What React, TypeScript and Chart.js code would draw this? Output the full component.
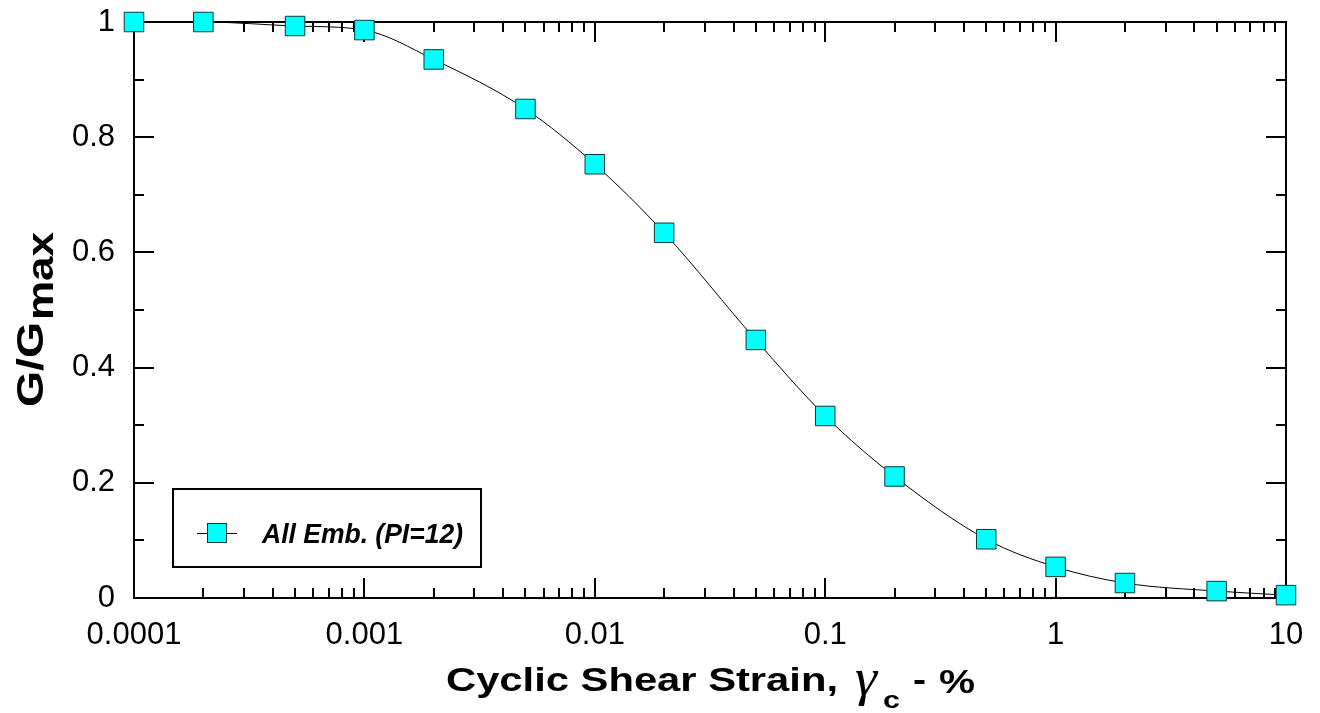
import React, { useEffect, useRef } from 'react';
import { Chart, registerables } from 'chart.js';

Chart.register(...registerables);

// ---- data ----
const strainPct = [0.0001, 0.0002, 0.0005, 0.001, 0.002, 0.005, 0.01, 0.02, 0.05, 0.1, 0.2, 0.5, 1, 2, 5, 10];
const modulusRatio = [1.0, 1.0, 0.993, 0.986, 0.935, 0.849, 0.753, 0.634, 0.448, 0.316, 0.211, 0.102, 0.054, 0.026, 0.012, 0.005];
const xTickValues = [0.0001, 0.001, 0.01, 0.1, 1, 10];
const yTickStep = 0.2;
const seriesLabel = 'All Emb. (PI=12)';
const xTitleMain = 'Cyclic Shear Strain,';
const xTitleSymbol = 'γ';
const xTitleSub = 'c';
const xTitleTail = ['-', '%'];
const yTitleMain = 'G/G';
const yTitleSub = 'max';

const SANS = '"Liberation Sans", Arial, Helvetica, sans-serif';
const SERIF = '"Liberation Serif", "Times New Roman", serif';
const CYAN = '#00ffff';
const MARKER_EDGE = '#0b3a3a';

function fitText(ctx: CanvasRenderingContext2D, text: string, x: number, y: number, targetW: number) {
  const w = ctx.measureText(text).width;
  ctx.save();
  ctx.translate(x, y);
  ctx.scale(targetW / w, 1);
  ctx.fillText(text, 0, 0);
  ctx.restore();
}

const framePlugin = {
  id: 'frameTicks',
  beforeDatasetsDraw(chart: any) {
    const { ctx, chartArea, scales } = chart;
    const { left, right, top, bottom } = chartArea;
    const x = scales.x;
    const y = scales.y;
    ctx.save();
    ctx.strokeStyle = '#000';
    ctx.lineWidth = 2;
    ctx.beginPath();
    ctx.rect(left, top, right - left, bottom - top);
    // log x ticks (major at decades, minor 2..9)
    for (let d = -4; d <= 1; d++) {
      for (let m = 1; m <= 9; m++) {
        const v = m * Math.pow(10, d);
        if (v < 0.0001 * 0.999 || v > 10 * 1.001) continue;
        const px = Math.round(x.getPixelForValue(v));
        const len = m === 1 ? 20 : 10;
        ctx.moveTo(px, bottom);
        ctx.lineTo(px, bottom - len);
        ctx.moveTo(px, top);
        ctx.lineTo(px, top + len);
      }
    }
    // y ticks (major 0.2, minor 0.1)
    for (let i = 0; i <= 10; i++) {
      const py = Math.round(y.getPixelForValue(i / 10));
      const len = i % 2 === 0 ? 20 : 10;
      ctx.moveTo(left, py);
      ctx.lineTo(left + len, py);
      ctx.moveTo(right, py);
      ctx.lineTo(right - len, py);
    }
    ctx.stroke();
    ctx.restore();
  },
};

const textPlugin = {
  id: 'titlesLegend',
  afterDraw(chart: any) {
    const { ctx, chartArea } = chart;
    const { left, bottom } = chartArea;
    ctx.save();
    ctx.fillStyle = '#000';
    ctx.textBaseline = 'alphabetic';
    ctx.textAlign = 'left';

    // x-axis title
    ctx.font = `bold 33px ${SANS}`;
    fitText(ctx, xTitleMain, 446, 691, 392);
    ctx.font = `italic 52px ${SERIF}`;
    fitText(ctx, xTitleSymbol, 855, 695, 22);
    ctx.font = `bold 24px ${SANS}`;
    fitText(ctx, xTitleSub, 883, 708, 17);
    ctx.font = `bold 33px ${SANS}`;
    fitText(ctx, xTitleTail[0], 913, 691, 13);
    fitText(ctx, xTitleTail[1], 939, 693, 36);

    // y-axis title (rotated)
    ctx.save();
    ctx.translate(43, 407);
    ctx.rotate(-Math.PI / 2);
    ctx.font = `bold 36px ${SANS}`;
    fitText(ctx, yTitleMain, 0, 0, 85);
    fitText(ctx, yTitleSub, 87, 10, 88);
    ctx.restore();

    // legend
    const bx = left + 39;
    const by = bottom - 109;
    const bw = 308;
    const bh = 78;
    ctx.lineWidth = 2;
    ctx.strokeStyle = '#000';
    ctx.strokeRect(bx, by, bw, bh);
    const cy = by + 44;
    ctx.lineWidth = 1;
    ctx.beginPath();
    ctx.moveTo(bx + 24, cy + 0.5);
    ctx.lineTo(bx + 64, cy + 0.5);
    ctx.stroke();
    ctx.fillStyle = CYAN;
    ctx.fillRect(bx + 34, cy - 10, 20, 20);
    ctx.strokeStyle = MARKER_EDGE;
    ctx.strokeRect(bx + 34.5, cy - 9.5, 19, 19);
    ctx.fillStyle = '#000';
    ctx.font = `italic bold 28px ${SANS}`;
    fitText(ctx, seriesLabel, bx + 89, cy + 10, 201);

    ctx.restore();
  },
};

export default function App() {
  const canvasRef = useRef<HTMLCanvasElement | null>(null);

  useEffect(() => {
    const canvas = canvasRef.current;
    if (!canvas) return;
    const tickFont = { family: SANS, size: 31 };
    const chart = new Chart(canvas, {
      type: 'scatter',
      data: {
        datasets: [
          {
            label: seriesLabel,
            data: strainPct.map((v, i) => ({ x: v, y: modulusRatio[i] })),
            showLine: true,
            borderColor: '#000',
            borderWidth: 1,
            cubicInterpolationMode: 'monotone',
            pointStyle: 'rect',
            pointRadius: 13.8,
            pointHoverRadius: 13.8,
            pointBorderWidth: 1,
            pointBorderColor: MARKER_EDGE,
            pointBackgroundColor: CYAN,
            clip: false,
          } as any,
        ],
      },
      options: {
        animation: false,
        responsive: false,
        devicePixelRatio: 1,
        events: [],
        layout: { padding: { top: 22, right: 34, left: 0, bottom: 0 } },
        plugins: { legend: { display: false }, tooltip: { enabled: false }, title: { display: false } },
        scales: {
          x: {
            type: 'logarithmic',
            min: 0.0001,
            max: 10,
            grid: { display: false, drawTicks: false },
            border: { display: false },
            afterBuildTicks: (s: any) => {
              s.ticks = xTickValues.map((v) => ({ value: v }));
            },
            afterFit: (s: any) => {
              s.height = 115;
              s.paddingLeft = 0;
              s.paddingRight = 0;
            },
            ticks: {
              autoSkip: false,
              maxRotation: 0,
              padding: 19,
              color: '#000',
              font: tickFont,
              callback: (v: any) => String(v),
            },
          },
          y: {
            min: 0,
            max: 1,
            grid: { display: false, drawTicks: false },
            border: { display: false },
            afterFit: (s: any) => {
              s.width = 134;
              s.paddingTop = 0;
              s.paddingBottom = 0;
            },
            ticks: {
              stepSize: yTickStep,
              padding: 19,
              color: '#000',
              font: tickFont,
              callback: (v: any) => String(Math.round(Number(v) * 10) / 10),
            },
          },
        },
      },
      plugins: [framePlugin, textPlugin],
    });
    return () => chart.destroy();
  }, []);

  return (
    <div style={{ position: 'absolute', left: 0, top: 0, width: 1320, height: 713, background: '#fff' }}>
      <canvas ref={canvasRef} width={1320} height={713} style={{ display: 'block' }} />
    </div>
  );
}
